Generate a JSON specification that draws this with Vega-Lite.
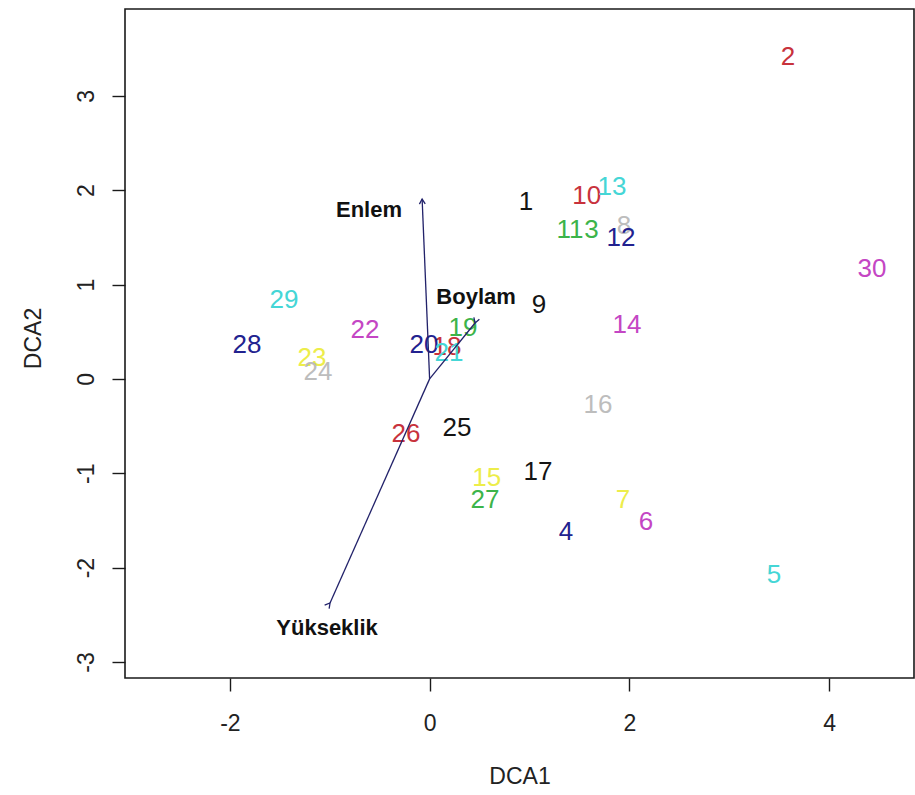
{
  "$schema": "https://vega.github.io/schema/vega-lite/v6.json",
  "width": 789,
  "height": 669,
  "autosize": "none",
  "padding": {"left": 125, "top": 9, "right": 1, "bottom": 117},
  "background": "white",
  "config": {
    "font": "Liberation Sans",
    "view": {"stroke": "#1a1a1a", "strokeWidth": 1.6},
    "axis": {
      "domain": false,
      "grid": false,
      "ticks": true,
      "tickColor": "#1a1a1a",
      "tickWidth": 1.4,
      "tickSize": 13,
      "labelFont": "Liberation Sans",
      "labelFontSize": 23,
      "labelColor": "#222222",
      "labelFlush": false,
      "labelExpr": "'' + datum.value",
      "titleFont": "Liberation Sans",
      "titleFontSize": 23,
      "titleFontWeight": "normal",
      "titleColor": "#222222"
    }
  },
  "datasets": {
    "sites": [
      {"site": "1", "x": 0.965, "y": 1.875},
      {"site": "2", "x": 3.589, "y": 3.411},
      {"site": "3", "x": 1.621, "y": 1.578},
      {"site": "4", "x": 1.366, "y": -1.622},
      {"site": "5", "x": 3.448, "y": -2.079},
      {"site": "6", "x": 2.167, "y": -1.516},
      {"site": "7", "x": 1.937, "y": -1.283},
      {"site": "8", "x": 1.947, "y": 1.615},
      {"site": "9", "x": 1.095, "y": 0.783},
      {"site": "10", "x": 1.573, "y": 1.938},
      {"site": "11", "x": 1.406, "y": 1.578},
      {"site": "12", "x": 1.916, "y": 1.493},
      {"site": "13", "x": 1.826, "y": 2.034},
      {"site": "14", "x": 1.976, "y": 0.571},
      {"site": "15", "x": 0.571, "y": -1.05},
      {"site": "16", "x": 1.686, "y": -0.276},
      {"site": "17", "x": 1.085, "y": -0.984},
      {"site": "18", "x": 0.174, "y": 0.338},
      {"site": "19", "x": 0.334, "y": 0.539},
      {"site": "20", "x": -0.056, "y": 0.359},
      {"site": "21", "x": 0.194, "y": 0.274},
      {"site": "22", "x": -0.647, "y": 0.518},
      {"site": "23", "x": -1.177, "y": 0.221},
      {"site": "24", "x": -1.117, "y": 0.073},
      {"site": "25", "x": 0.274, "y": -0.518},
      {"site": "26", "x": -0.236, "y": -0.581},
      {"site": "27", "x": 0.555, "y": -1.283},
      {"site": "28", "x": -1.828, "y": 0.359},
      {"site": "29", "x": -1.458, "y": 0.836},
      {"site": "30", "x": 4.43, "y": 1.165}
    ],
    "vectors": [
      {"var": "Enlem", "ox": 0, "oy": 0, "x": -0.075, "y": 1.906, "lx": -0.607, "ly": 1.79},
      {"var": "Boylam", "ox": 0, "oy": 0, "x": 0.455, "y": 0.592, "lx": 0.465, "ly": 0.868},
      {"var": "Yükseklik", "ox": 0, "oy": 0, "x": -0.997, "y": -2.375, "lx": -1.027, "ly": -2.64}
    ]
  },
  "layer": [
    {
      "data": {"name": "sites"},
      "mark": {"type": "text", "fontSize": 26, "align": "center", "baseline": "middle"},
      "encoding": {
        "x": {
          "field": "x",
          "type": "quantitative",
          "scale": {"domain": [-3.05, 4.85], "nice": false, "zero": false},
          "axis": {
            "values": [-2, 0, 2, 4],
            "title": "DCA1",
            "labelBaseline": "alphabetic",
            "labelPadding": 39,
            "titleBaseline": "alphabetic",
            "titleY": 105
          }
        },
        "y": {
          "field": "y",
          "type": "quantitative",
          "scale": {"domain": [-3.17, 3.92], "nice": false, "zero": false},
          "axis": {
            "values": [-3, -2, -1, 0, 1, 2, 3],
            "title": "DCA2",
            "labelAngle": 270,
            "labelAlign": "center",
            "labelBaseline": "alphabetic",
            "labelPadding": 19,
            "titleAngle": 270,
            "titleAlign": "center",
            "titleBaseline": "alphabetic",
            "titleX": -85,
            "titleY": 329
          }
        },
        "text": {"field": "site"},
        "color": {
          "field": "site",
          "type": "nominal",
          "legend": null,
          "scale": {
            "domain": ["1","2","3","4","5","6","7","8","9","10","11","12","13","14","15","16","17","18","19","20","21","22","23","24","25","26","27","28","29","30"],
            "range": [
              "#141414","#c8323c","#3cb44a","#22228f","#45d6d6","#c446c4","#eded4a","#bdbdbd",
              "#141414","#c8323c","#3cb44a","#22228f","#45d6d6","#c446c4","#eded4a","#bdbdbd",
              "#141414","#c8323c","#3cb44a","#22228f","#45d6d6","#c446c4","#eded4a","#bdbdbd",
              "#141414","#c8323c","#3cb44a","#22228f","#45d6d6","#c446c4"
            ]
          }
        }
      }
    },
    {
      "mark": {"type": "rule", "color": "#111111", "strokeWidth": 1.3, "strokeDash": [2, 3]},
      "encoding": {"x": {"datum": 0}}
    },
    {
      "mark": {"type": "rule", "color": "#111111", "strokeWidth": 1.3, "strokeDash": [2, 3]},
      "encoding": {"y": {"datum": 0}}
    },
    {
      "data": {"name": "vectors"},
      "mark": {"type": "rule", "color": "#22226a", "strokeWidth": 1.3},
      "encoding": {
        "x": {"field": "ox", "type": "quantitative"},
        "y": {"field": "oy", "type": "quantitative"},
        "x2": {"field": "x"},
        "y2": {"field": "y"}
      }
    },
    {
      "data": {"name": "vectors"},
      "mark": {
        "type": "point",
        "shape": "M -0.58 1 L 0 0 L 0.58 1",
        "filled": false,
        "stroke": "#22226a",
        "strokeWidth": 1.3,
        "opacity": 1,
        "size": 100
      },
      "encoding": {
        "x": {"field": "x", "type": "quantitative"},
        "y": {"field": "y", "type": "quantitative"},
        "angle": {
          "field": "var",
          "type": "nominal",
          "legend": null,
          "scale": {"domain": ["Enlem", "Boylam", "Yükseklik"], "range": [357.6, 39.1, 204]}
        }
      }
    },
    {
      "data": {"name": "vectors"},
      "mark": {"type": "text", "fontSize": 22, "fontWeight": "bold", "align": "center", "baseline": "middle", "color": "#111111"},
      "encoding": {
        "x": {"field": "lx", "type": "quantitative"},
        "y": {"field": "ly", "type": "quantitative"},
        "text": {"field": "var"}
      }
    }
  ]
}
